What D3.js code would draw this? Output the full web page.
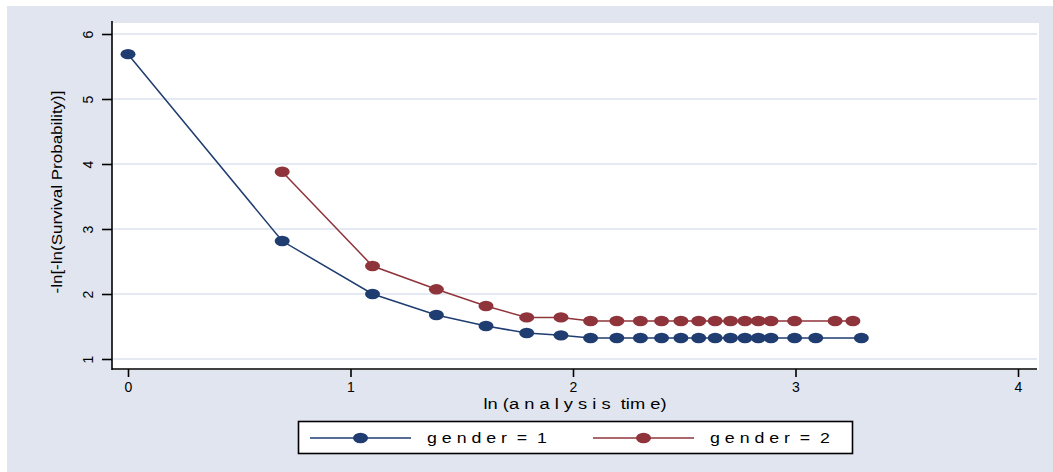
<!DOCTYPE html>
<html>
<head>
<meta charset="utf-8">
<script src="https://cdn.jsdelivr.net/npm/d3@7"></script>
<style>
  html, body { margin: 0; padding: 0; background: #ffffff; }
  svg { display: block; font-family: "Liberation Sans", Arial, sans-serif; }
  svg text { white-space: pre; }
</style>
</head>
<body>
<svg id="chart" width="1053" height="472"></svg>
<script>
// ln(analysis time) at each event time, and -ln[-ln(S)] per gender
const lnTimeGender1 = [0, 0.693, 1.099, 1.386, 1.609, 1.792, 1.946, 2.079, 2.197, 2.303, 2.398,
                       2.485, 2.565, 2.639, 2.708, 2.773, 2.833, 2.890, 2.996, 3.091, 3.296];
const survGender1   = [5.69, 2.815, 2.0, 1.677, 1.508, 1.40, 1.364, 1.323, 1.323, 1.323, 1.323,
                       1.323, 1.323, 1.323, 1.323, 1.323, 1.323, 1.323, 1.323, 1.323, 1.323];
const lnTimeGender2 = [0.693, 1.099, 1.386, 1.609, 1.792, 1.946, 2.079, 2.197, 2.303, 2.398,
                       2.485, 2.565, 2.639, 2.708, 2.773, 2.833, 2.890, 2.996, 3.178, 3.258];
const survGender2   = [3.88, 2.43, 2.072, 1.815, 1.64, 1.64, 1.585, 1.585, 1.585, 1.585,
                       1.585, 1.585, 1.585, 1.585, 1.585, 1.585, 1.585, 1.585, 1.585, 1.585];

const xTicks = [0, 1, 2, 3, 4];
const yTicks = [1, 2, 3, 4, 5, 6];
const seriesLabels = ["g e n d e r  =  1", "g e n d e r  =  2"];
const xTitle = "ln (a n a l y s i s  tim e)";
const yTitle = "-ln[-ln(Survival Probability)]";

const colors = ["#1f3d70", "#8f343b"];
const bgColor = "#e0e5ef";
const gridColor = "#dce2ee";

const svg = d3.select("#chart");

// outer panel
svg.append("rect").attr("x", 7).attr("y", 6).attr("width", 1046).attr("height", 466)
  .attr("fill", bgColor);

// plot region
const plot = { left: 112, right: 1039, top: 23, bottom: 369 };
svg.append("rect").attr("x", plot.left).attr("y", plot.top)
  .attr("width", plot.right - plot.left).attr("height", plot.bottom - plot.top + 1)
  .attr("fill", "#ffffff");

const x = d3.scaleLinear().domain([0, 4]).range([128, 1018]);
const y = d3.scaleLinear().domain([1, 6]).range([359, 34]);

// horizontal grid
svg.append("g").selectAll("line").data(yTicks).join("line")
  .attr("x1", plot.left + 1).attr("x2", plot.right - 2)
  .attr("y1", d => y(d)).attr("y2", d => y(d))
  .attr("stroke", gridColor).attr("stroke-width", 1.6);

// y axis
const yAxis = svg.append("g").attr("transform", `translate(${plot.left},0)`)
  .call(d3.axisLeft(y).tickValues(yTicks).tickSize(10).tickPadding(0).tickFormat(d3.format("d")));
yAxis.select(".domain").attr("d", `M0,${plot.top - 2}V${plot.bottom + 1}`)
  .attr("stroke", "#000").attr("stroke-width", 1.6);
yAxis.selectAll(".tick line").attr("stroke", "#000").attr("stroke-width", 1.6);
yAxis.selectAll(".tick text")
  .attr("x", 0).attr("dy", null)
  .attr("transform", "translate(-19,0) rotate(-90)")
  .attr("text-anchor", "middle").attr("y", 0)
  .attr("font-size", 14).attr("fill", "#000")
  .attr("font-family", "Liberation Sans, Arial, sans-serif");

// x axis
const xAxis = svg.append("g").attr("transform", `translate(0,${plot.bottom})`)
  .call(d3.axisBottom(x).tickValues(xTicks).tickSize(8).tickPadding(5).tickFormat(d3.format("d")));
xAxis.select(".domain").attr("d", `M${plot.left},0H${plot.right - 2}`)
  .attr("stroke", "#000").attr("stroke-width", 1.6);
xAxis.selectAll(".tick line").attr("stroke", "#000").attr("stroke-width", 1.6);
xAxis.selectAll(".tick text").attr("font-size", 14).attr("fill", "#000")
  .attr("font-family", "Liberation Sans, Arial, sans-serif");

// axis titles
svg.append("text").attr("x", 575).attr("y", 409)
  .attr("text-anchor", "middle").attr("font-size", 14).attr("fill", "#000")
  .attr("textLength", 183).attr("lengthAdjust", "spacingAndGlyphs")
  .text(xTitle);
svg.append("text").attr("transform", `translate(62,192) rotate(-90)`)
  .attr("text-anchor", "middle").attr("font-size", 14.5).attr("fill", "#000")
  .attr("textLength", 203).attr("lengthAdjust", "spacingAndGlyphs")
  .text(yTitle);

// series
const series = [
  { xs: lnTimeGender1, ys: survGender1, color: colors[0] },
  { xs: lnTimeGender2, ys: survGender2, color: colors[1] }
];
const line = d3.line().x(d => x(d[0])).y(d => y(d[1]));
series.forEach(s => {
  const pts = s.xs.map((v, i) => [v, s.ys[i]]);
  svg.append("path").datum(pts).attr("d", line)
    .attr("fill", "none").attr("stroke", s.color).attr("stroke-width", 1.5);
  svg.append("g").selectAll("ellipse").data(pts).join("ellipse")
    .attr("cx", d => x(d[0])).attr("cy", d => y(d[1]))
    .attr("rx", 7.5).attr("ry", 5.2).attr("fill", s.color);
});

// legend
const legend = svg.append("g");
legend.append("rect").attr("x", 298.5).attr("y", 421.5).attr("width", 554).attr("height", 32)
  .attr("fill", "#fff").attr("stroke", "#000").attr("stroke-width", 1.6);
const legendItems = [
  { x0: 310, x1: 411, label: seriesLabels[0], tx: 427, color: colors[0] },
  { x0: 593, x1: 694, label: seriesLabels[1], tx: 710, color: colors[1] }
];
legendItems.forEach(it => {
  legend.append("line").attr("x1", it.x0).attr("x2", it.x1).attr("y1", 438).attr("y2", 438)
    .attr("stroke", it.color).attr("stroke-width", 1.5);
  legend.append("ellipse").attr("cx", (it.x0 + it.x1) / 2).attr("cy", 438)
    .attr("rx", 7.5).attr("ry", 5.2).attr("fill", it.color);
  legend.append("text").attr("x", it.tx).attr("y", 443).attr("font-size", 14).attr("fill", "#000")
    .attr("textLength", 120).attr("lengthAdjust", "spacingAndGlyphs")
    .text(it.label);
});
</script>
</body>
</html>
